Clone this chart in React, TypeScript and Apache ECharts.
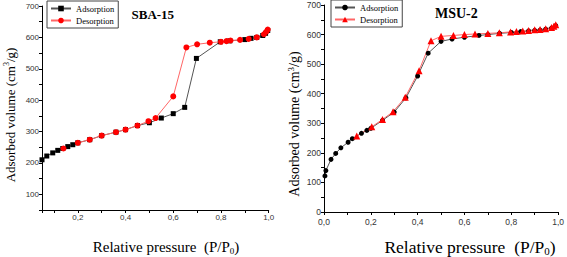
import React, { useEffect, useRef } from "react";
import * as echarts from "echarts";

// SBA-15
const sbaAdsX = [0.05, 0.07, 0.095, 0.116, 0.137, 0.158, 0.179, 0.2, 0.25, 0.3, 0.36, 0.4, 0.45, 0.5, 0.55, 0.6, 0.648, 0.697, 0.797, 0.837, 0.9, 0.926, 0.95, 0.975, 0.987, 0.996];
const sbaAdsY = [210, 222, 232, 240, 246, 252, 258, 264, 274, 287, 298, 306, 319, 328, 343, 357, 377, 533, 586, 589, 593, 597, 600, 606, 613, 622];
const sbaDesX = [0.14, 0.2, 0.25, 0.3, 0.36, 0.4, 0.45, 0.496, 0.526, 0.6, 0.655, 0.7, 0.753, 0.8, 0.823, 0.84, 0.88, 0.916, 0.95, 0.98, 0.99, 0.996];
const sbaDesY = [246, 264, 274, 287, 298, 306, 319, 333, 343, 412, 568, 578, 583, 586, 588, 590, 592, 595, 600, 610, 618, 625];

// MSU-2
const msuAdsX = [0.004, 0.008, 0.03, 0.05, 0.072, 0.103, 0.121, 0.16, 0.183, 0.2, 0.25, 0.3, 0.35, 0.4, 0.445, 0.5, 0.547, 0.6, 0.662, 0.7, 0.75, 0.8, 0.84, 0.874, 0.9, 0.923, 0.947, 0.972, 0.99];
const msuAdsY = [122, 140, 178, 198, 217, 236, 248, 266, 276, 283, 310, 338, 386, 460, 537, 577, 585, 591, 597, 600, 604, 607, 610, 612, 614, 615, 618, 622, 630];
const msuDesX = [0.14, 0.204, 0.25, 0.295, 0.347, 0.406, 0.457, 0.5, 0.553, 0.6, 0.645, 0.7, 0.749, 0.797, 0.822, 0.849, 0.874, 0.9, 0.923, 0.947, 0.972, 0.982, 0.99];
const msuDesY = [257, 288, 313, 339, 388, 478, 579, 594, 597, 600, 602, 604, 606, 609, 610, 612, 614, 616, 617, 620, 624, 628, 633];

const legendNames = ["Adsorption", "Desorption"];
const titles = ["SBA-15", "MSU-2"];

const pairs = (xs: number[], ys: number[]) => xs.map((x, i) => [x, ys[i]]);

const SERIF = "Liberation Serif";
const SANS = "Liberation Sans";

const xFmt = (v: number) => {
  const r = Math.round(v * 10);
  if (Math.abs(v * 10 - r) > 1e-6 || r % 2 !== 0) return "";
  return (r / 10).toFixed(1).replace(".", ",");
};
const yFmt = (v: number) => (Math.round(v) % 100 === 0 ? String(Math.round(v)) : "");

export default function App() {
  const ref = useRef<HTMLDivElement>(null);
  useEffect(() => {
    if (!ref.current) return;
    const chart = echarts.init(ref.current, undefined, { renderer: "svg" });
    const axisCommon = (fs: number) => ({
      axisLine: { show: true, onZero: false, lineStyle: { color: "#000", width: 1 } },
      axisTick: { show: true, inside: false, length: 3, lineStyle: { color: "#000" } },
      splitLine: { show: false },
      axisLabel: { fontFamily: SANS, fontSize: fs, color: "#333", margin: 3 },
    });
    const adsStyle = {
      type: "line",
      lineStyle: { color: "#555", width: 1 },
      itemStyle: { color: "#000" },
      clip: false,
    };
    const desStyle = {
      type: "line",
      lineStyle: { color: "#ff6666", width: 1 },
      itemStyle: { color: "#ff0000" },
      clip: false,
    };
    const legendCommon = {
      orient: "vertical",
      borderColor: "#444",
      borderWidth: 1,
      backgroundColor: "#fff",
      padding: [3, 4, 3, 3],
      itemGap: 3,
      itemWidth: 20,
      itemHeight: 7,
      textStyle: { fontFamily: SERIF, fontSize: 8.5, color: "#000" },
      formatter: (n: string) => n.trim(),
    };
    const nameText = (x: number, y: number, rot: number, main: string, small: string, tail: string, fs: number, sub: boolean) => ({
      type: "text", x, y, rotation: rot,
      style: {
        text: `{a|${main}}{s|${small}}{a|${tail}}`, align: "center", verticalAlign: "middle",
        rich: {
          a: { fontFamily: SERIF, fontSize: fs, lineHeight: fs + 2, fill: "#000" },
          s: { fontFamily: SERIF, fontSize: Math.round(fs * 0.62), lineHeight: fs + 2, verticalAlign: sub ? "bottom" : "top", fill: "#000" },
        },
      },
    });
    chart.setOption({
      animation: false,
      backgroundColor: "#fff",
      grid: [
        { left: 42, top: 6, width: 226.7, height: 204 },
        { left: 324, top: 5, width: 236.5, height: 207 },
      ],
      xAxis: [
        {
          gridIndex: 0, type: "value", min: 0.05, max: 1.0, minInterval: 0.1, maxInterval: 0.1,
          ...axisCommon(8),
          axisLabel: { ...axisCommon(8).axisLabel, formatter: xFmt },
        },
        {
          gridIndex: 1, type: "value", min: 0, max: 1.0, interval: 0.1,
          ...axisCommon(8.5),
          axisLabel: { ...axisCommon(8.5).axisLabel, formatter: xFmt, margin: 5 },
        },
      ],
      yAxis: [
        {
          gridIndex: 0, type: "value", min: 50, max: 700, interval: 50,
          ...axisCommon(8),
          axisLabel: { ...axisCommon(8).axisLabel, formatter: yFmt },
        },
        {
          gridIndex: 1, type: "value", min: 0, max: 700, interval: 50,
          ...axisCommon(8.5),
          axisLabel: { ...axisCommon(8.5).axisLabel, formatter: yFmt },
        },
      ],
      legend: [
        { ...legendCommon, left: 47, top: 1, data: legendNames },
        { ...legendCommon, left: 331, top: 0, data: legendNames.map((n) => n + " ") },
      ],
      series: [
        { ...adsStyle, name: legendNames[0], xAxisIndex: 0, yAxisIndex: 0, symbol: "rect", symbolSize: 5, data: pairs(sbaAdsX, sbaAdsY) },
        { ...desStyle, name: legendNames[1], xAxisIndex: 0, yAxisIndex: 0, symbol: "circle", symbolSize: 6, data: pairs(sbaDesX, sbaDesY) },
        { ...adsStyle, name: legendNames[0] + " ", xAxisIndex: 1, yAxisIndex: 1, symbol: "circle", symbolSize: 5, data: pairs(msuAdsX, msuAdsY) },
        { ...desStyle, name: legendNames[1] + " ", xAxisIndex: 1, yAxisIndex: 1, symbol: "triangle", symbolSize: 7, data: pairs(msuDesX, msuDesY) },
      ],
      graphic: [
        {
          type: "text", x: 131.5, y: 14,
          style: { text: titles[0], font: `bold 13px "${SERIF}"`, fill: "#000", align: "left", verticalAlign: "middle" },
        },
        {
          type: "text", x: 435, y: 13,
          style: { text: titles[1], font: `bold 14px "${SERIF}"`, fill: "#000", align: "left", verticalAlign: "middle" },
        },
        nameText(10, 115, Math.PI / 2, "Adsorbed volume (cm", "3", "/g)", 13, false),
        nameText(294, 124, Math.PI / 2, "Adsorbed volume (cm", "3", "/g)", 14, false),
        nameText(166, 247, 0, "Relative pressure  (P/P", "0", ")", 15, true),
        nameText(470, 247, 0, "Relative pressure  (P/P", "0", ")", 17.5, true),
      ],
    });
    return () => chart.dispose();
  }, []);
  return (
    <div
      ref={ref}
      style={{ position: "fixed", left: 0, top: 0, width: 567, height: 257, background: "#fff" }}
    />
  );
}
